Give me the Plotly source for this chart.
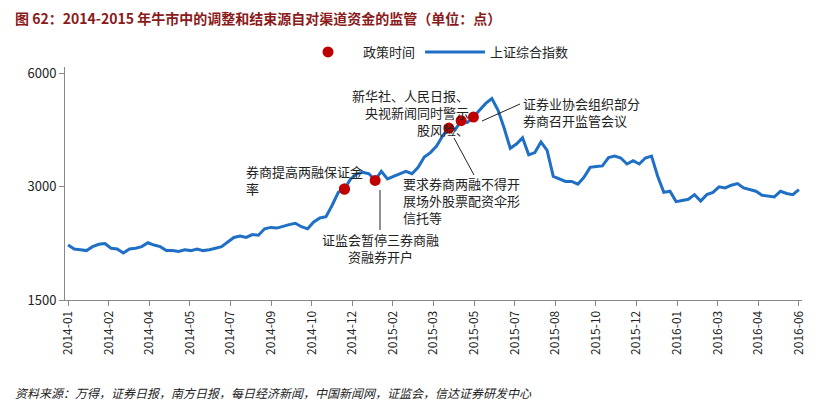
import plotly.graph_objects as go
import math

index_values = [2100,2050,2040,2030, 2080,2110,2120,2060, 2050,2000,2050,2060, 2080,2130,2100,2080,
 2030,2030,2020,2040, 2030,2050,2030,2040, 2060,2080,2140,2200, 2220,2200,2240,2230,
 2320,2340,2330,2360, 2380,2400,2350,2320, 2420,2480,2500,2680, 2900,2960,3150,3250,
 3280,3250,3120,3300, 3150,3200,3250,3300, 3250,3380,3600,3700, 3850,4100,4300,4250,
 4500,4450,4600,4800, 5000,5150,4800,4300, 3800,3900,4050,3650, 3700,3950,3750,3200,
 3150,3100,3100,3050, 3180,3380,3400,3410, 3590,3620,3580,3450, 3520,3450,3580,3620,
 3200,2900,2920,2740, 2760,2780,2860,2750, 2860,2900,3000,2980, 3030,3060,2980,2950,
 2920,2850,2830,2820, 2920,2880,2860,2950]
policy_idx = [45, 50, 62, 64, 66]
tick_labels = ["2014-01","2014-02","2014-04","2014-05","2014-07","2014-09","2014-10","2014-12",
 "2015-02","2015-03","2015-05","2015-07","2015-08","2015-10","2015-12","2016-01","2016-03","2016-04","2016-06"]
y_ticks = [1500, 3000, 6000]

x = list(range(len(index_values)))
n = len(index_values)
step = (n - 1) / (len(tick_labels) - 1)
tickvals = [i * step for i in range(len(tick_labels))]

L, T, W, H = 57, 59, 737, 233
def px(X): return (X - L) / W
def py(Y): return 1 - (Y - T) / H

fig = go.Figure()
fig.add_trace(go.Scatter(x=[policy_idx[0]], y=[index_values[policy_idx[0]]], mode="markers", name="政策时间",
                         marker=dict(color="#C00000", size=11)))
fig.add_trace(go.Scatter(x=x, y=index_values, mode="lines", name="上证综合指数",
                         line=dict(color="#1F6FC5", width=3)))
fig.add_trace(go.Scatter(x=policy_idx, y=[index_values[i] for i in policy_idx], mode="markers",
                         marker=dict(color="#C00000", size=11), showlegend=False))

font = dict(family="Noto Sans CJK SC", size=13, color="#222")
def txt(X, Y, text, xanchor="center", align="center"):
    fig.add_annotation(xref="paper", yref="paper", x=px(X), y=py(Y), text=text, showarrow=False,
                       xanchor=xanchor, yanchor="middle", align=align, font=font)
def seg(X0, Y0, X1, Y1):
    fig.add_shape(type="line", xref="paper", yref="paper", x0=px(X0), y0=py(Y0), x1=px(X1), y1=py(Y1),
                  line=dict(color="#222", width=1))

txt(236, 172, "券商提高两融保证金<br>率", xanchor="left", align="left")
txt(372, 240, "证监会暂停三券商融<br>资融券开户")
seg(372, 182, 372, 222)
txt(402, 104, "新华社、人民日报、<br>央视新闻同时警示<br>股风险、", align="right")
txt(393, 192, "要求券商两融不得开<br>展场外股票配资伞形<br>信托等", xanchor="left", align="left")
seg(446, 130, 466, 167)
txt(513, 104, "证券业协会组织部分<br>券商召开监管会议", xanchor="left", align="left")
seg(474, 113, 512, 96)

fig.update_layout(
    width=820, height=406, plot_bgcolor="white", paper_bgcolor="white",
    margin=dict(l=L, r=820 - L - W, t=T, b=406 - T - H), font=font,
    legend=dict(orientation="h", x=0.5, xanchor="center", y=py(44), yanchor="middle",
                font=dict(size=13), itemwidth=60),
    xaxis=dict(tickmode="array", tickvals=tickvals, ticktext=tick_labels, tickangle=-90,
               range=[-0.5, n - 0.5], showline=True, linecolor="#888", ticks="outside",
               tickcolor="#888", showgrid=False, tickfont=dict(size=12), automargin=False),
    yaxis=dict(type="log", range=[math.log10(1500), math.log10(6250)], tickvals=y_ticks,
               ticktext=[str(v) for v in y_ticks], showline=True, linecolor="#888",
               ticks="outside", tickcolor="#888", showgrid=False, tickfont=dict(size=13), automargin=False),
)
fig.add_annotation(xref="paper", yref="paper", x=px(5), y=py(10), xanchor="left", yanchor="middle",
                   text="<b>图 62：2014-2015 年牛市中的调整和结束源自对渠道资金的监管（单位：点）</b>",
                   showarrow=False, font=dict(family="Noto Sans CJK SC", size=14, color="#8B1A1A"))
fig.add_annotation(xref="paper", yref="paper", x=px(5), y=py(384), xanchor="left", yanchor="middle",
                   text="<i>资料来源：万得，证券日报，南方日报，每日经济新闻，中国新闻网，证监会，信达证券研发中心</i>",
                   showarrow=False, font=dict(family="Noto Sans CJK SC", size=12, color="#222"))
fig.write_html("out.html")
